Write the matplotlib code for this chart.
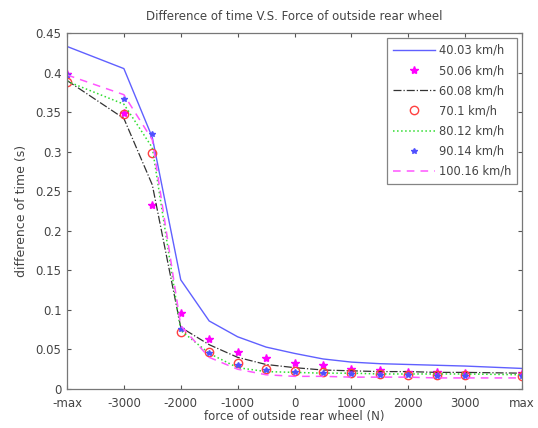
import matplotlib
matplotlib.use("Agg")
import matplotlib.pyplot as plt

# x positions: -max, -3000 ... 3000, max  (max drawn at +/-4000)
x_force = [-4000, -3000, -2500, -2000, -1500, -1000, -500, 0, 500, 1000, 1500, 2000, 2500, 3000, 4000]
x_ticks = [-4000, -3000, -2000, -1000, 0, 1000, 2000, 3000, 4000]
x_tick_labels = ["-max", "-3000", "-2000", "-1000", "0", "1000", "2000", "3000", "max"]
y_ticks = [0, 0.05, 0.1, 0.15, 0.2, 0.25, 0.3, 0.35, 0.4, 0.45]
y_tick_labels = ["0", "0.05", "0.1", "0.15", "0.2", "0.25", "0.3", "0.35", "0.4", "0.45"]

labels = ["40.03 km/h", "50.06 km/h", "60.08 km/h", "70.1 km/h",
          "80.12 km/h", "90.14 km/h", "100.16 km/h"]

v40 = [0.433, 0.405, 0.318, 0.138, 0.086, 0.066, 0.053, 0.045, 0.038, 0.034, 0.032, 0.031, 0.030, 0.029, 0.026]
v50 = [0.398, 0.349, 0.233, 0.096, 0.063, 0.047, 0.039, 0.033, 0.030, 0.025, 0.024, 0.022, 0.022, 0.020, 0.020]
v60 = [0.390, 0.342, 0.258, 0.078, 0.056, 0.040, 0.031, 0.027, 0.024, 0.023, 0.022, 0.022, 0.021, 0.021, 0.020]
v70 = [0.388, 0.347, 0.298, 0.072, 0.047, 0.033, 0.025, 0.023, 0.021, 0.020, 0.019, 0.018, 0.018, 0.018, 0.017]
v80 = [0.389, 0.360, 0.305, 0.074, 0.045, 0.027, 0.022, 0.021, 0.020, 0.020, 0.019, 0.019, 0.019, 0.019, 0.018]
v90 = [0.397, 0.367, 0.322, 0.076, 0.046, 0.030, 0.024, 0.022, 0.020, 0.019, 0.018, 0.018, 0.017, 0.017, 0.017]
v100 = [0.397, 0.372, 0.315, 0.080, 0.040, 0.025, 0.018, 0.016, 0.016, 0.015, 0.015, 0.015, 0.014, 0.014, 0.014]

plt.rcParams['font.family'] = ['DejaVu Sans']
fig = plt.figure(figsize=(5.38, 4.28), dpi=100)
ax = fig.add_axes([67/538, 1-389/428, (522-67)/538, (389-33)/428])

ax.plot(x_force, v40, '-', color='#6060ff', lw=1.0, label=labels[0])
ax.plot(x_force, v50, '*', color='#ff00ff', ms=6, ls='none', label=labels[1])
ax.plot(x_force, v60, '-.', color='#333333', lw=0.9, label=labels[2])
ax.plot(x_force, v70, 'o', color='#ff4040', mfc='none', ms=6, mew=1.0, ls='none', label=labels[3])
ax.plot(x_force, v80, ':', color='#30dd30', lw=1.1, label=labels[4])
ax.plot(x_force, v90, '*', color='#5050ff', ms=4, ls='none', label=labels[5])
ax.plot(x_force, v100, '--', color='#ff55ff', lw=1.1, dashes=(5, 4), label=labels[6])

ax.set_xlim(-4000, 4000)
ax.set_ylim(0, 0.45)
ax.set_xticks(x_ticks)
ax.set_xticklabels(x_tick_labels)
ax.set_yticks(y_ticks)
ax.set_yticklabels(y_tick_labels)
ax.tick_params(direction='in', labelsize=8.5, length=3, top=True, right=True,
               colors='#555555', labelcolor='#444444')
ax.tick_params(axis='x', pad=6)
ax.tick_params(axis='y', pad=4)
for s in ax.spines.values():
    s.set_color('#777777')
    s.set_linewidth(0.9)

ax.set_title("Difference of time V.S. Force of outside rear wheel", fontsize=8.5, color='#444444', pad=9)
ax.set_xlabel("force of outside rear wheel (N)", fontsize=8.5, color='#444444', labelpad=0)
ax.set_ylabel("difference of time (s)", fontsize=9, color='#444444', labelpad=5)

leg = ax.legend(loc='upper right', fontsize=8.3, frameon=True, fancybox=False,
                edgecolor='#666666', borderpad=0.5, handlelength=3.6,
                labelspacing=0.62, borderaxespad=0.45, handletextpad=0.35)
leg.get_frame().set_linewidth(0.9)
for t in leg.get_texts():
    t.set_color('#444444')

fig.savefig("out.png", dpi=100)
